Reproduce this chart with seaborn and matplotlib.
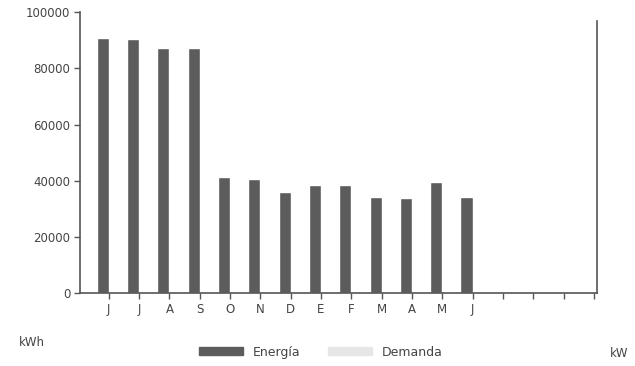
import matplotlib
matplotlib.use("Agg")
import matplotlib.pyplot as plt
import seaborn as sns
import pandas as pd
from matplotlib.patches import Patch

meses = ["J", "J", "A", "S", "O", "N", "D", "E", "F", "M", "A", "M", "J"]
energia = [90700, 90400, 87200, 87200, 41300, 40600, 35900, 38400, 38400, 34200, 34000, 39500, 34200]
demanda = [260, 255, 250, 250, 140, 135, 120, 130, 130, 115, 115, 130, 115]
yticks = [0, 20000, 40000, 60000, 80000, 100000]

pos = [str(i) for i in range(len(meses))]
df = pd.DataFrame({
    "pos": pos * 2,
    "valor": energia + demanda,
    "serie": ["Energía"] * len(meses) + ["Demanda"] * len(meses),
})

sns.set_style("white")
plt.rcParams["font.family"] = ["DejaVu Sans"]

fig = plt.figure(figsize=(6.35, 3.66), dpi=100)
ax = fig.add_axes([0.126, 0.199, 0.814, 0.768])

sns.barplot(data=df, x="pos", y="valor", hue="serie", order=pos,
            palette={"Energía": "#5c5c5c", "Demanda": "#e6e6e6"},
            width=0.8, saturation=1, ax=ax, legend=False)

ax.set_xlim(-0.95, 16.1)
ax.set_ylim(0, 100000)
ax.set_xticks(range(17))
ax.set_xticklabels(meses + [""] * 4, fontsize=8.5, color="#444444")
ax.set_yticks(yticks)
ax.set_yticklabels([str(v) for v in yticks], fontsize=8.5, color="#444444")
ax.tick_params(axis="both", direction="out", length=4, width=1, color="#555555",
               bottom=True, left=True, pad=3)
ax.set_xlabel("")
ax.set_ylabel("")
ax.spines["top"].set_visible(False)
for s in ["left", "bottom", "right"]:
    ax.spines[s].set_color("#555555")
    ax.spines[s].set_linewidth(1.2)
ax.spines["right"].set_bounds(0, 97000)

fig.text(0.03, 0.055, "kWh", fontsize=8.5, color="#444444")
fig.text(0.96, 0.025, "kW", fontsize=8.5, color="#444444")

handles = [Patch(facecolor="#5c5c5c", edgecolor="#5c5c5c"),
           Patch(facecolor="#e6e6e6", edgecolor="#e6e6e6")]
fig.legend(handles, ["Energía", "Demanda"], loc="center", bbox_to_anchor=(0.505, 0.038),
           ncol=2, frameon=False, fontsize=9, handlelength=3.5, handleheight=0.6,
           handletextpad=0.8, columnspacing=2.2, labelcolor="#444444")

fig.savefig("out.png", dpi=100)
